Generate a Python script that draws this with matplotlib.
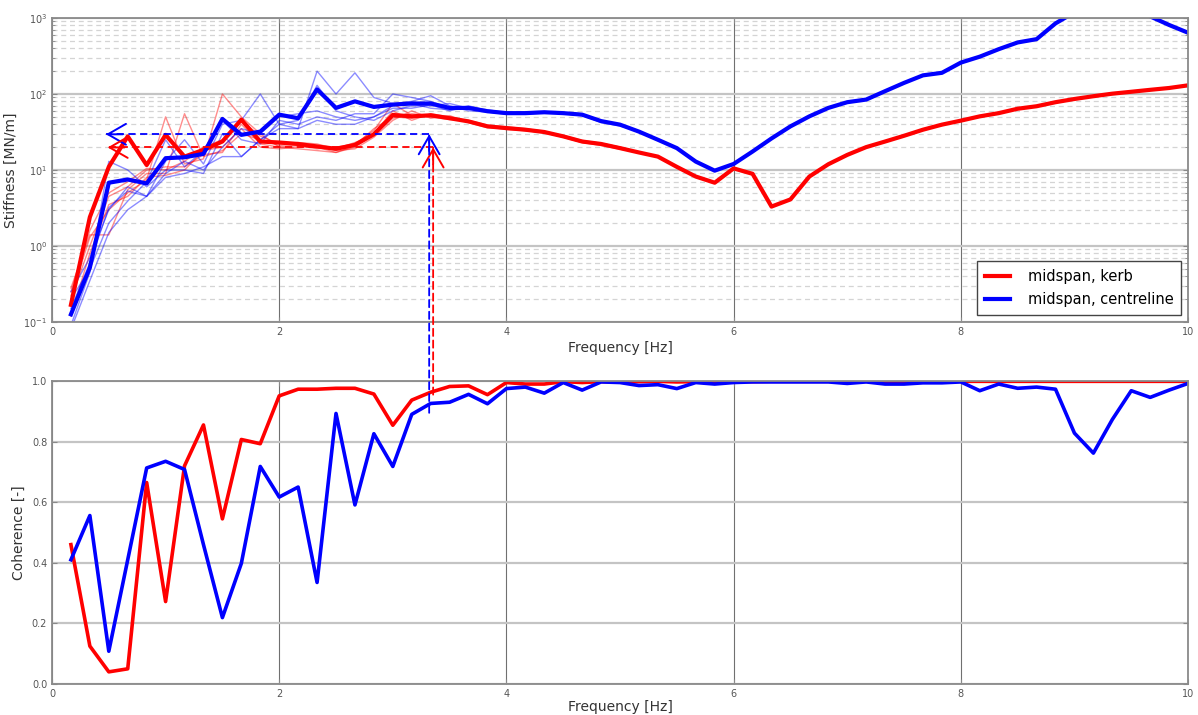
import numpy as np
import matplotlib
matplotlib.use("Agg")
import matplotlib.pyplot as plt
from matplotlib.patches import ConnectionPatch

# frequency bins (resolution 1/6 Hz, 60 bins up to 10 Hz)
df = 1.0 / 6.0
freq = df * np.arange(1, 61)

# mean stiffness [MN/m]
kerb_stiff = [0.168, 2.4, 11, 27.7, 11.6, 29, 15, 18.4, 23.7, 46,
              23.7, 23, 22, 20.4, 19, 21.4, 29.5, 53, 50.8, 52.5,
              48, 43.6, 37.5, 35.6, 33.9, 31.6, 27.7, 23.7, 22, 19.4,
              17, 15, 11, 8.2, 6.8, 10.5, 8.9, 3.3, 4.1, 8.2,
              11.9, 15.8, 20, 23.7, 28.2, 33.9, 39.5, 44.6, 50.8, 56,
              64, 69, 78, 86, 93.5, 101, 107, 113.5, 120, 130]
centre_stiff = [0.126, 0.52, 6.8, 7.5, 6.65, 14.3, 14.7, 16.3, 47, 29,
                32, 53.5, 48, 115, 65.6, 80, 67.6, 72.5, 75, 75,
                65.6, 65.6, 59.3, 56, 56, 57.5, 56, 53.5, 44, 39.5,
                32, 25, 19.4, 12.9, 9.8, 12, 17.5, 26, 37.5, 50.8,
                65.6, 78, 84.5, 109, 140, 176, 190, 259, 310, 389,
                477, 527, 850, 1190, 1600, 2000, 1900, 1050, 810, 640]

# individual runs, first 30 bins (above 5 Hz they coincide with the mean)
kerb_runs = [
    [0.22, 1.3, 3.0, 5.0, 7.5, 50, 12, 14, 100, 50, 30, 20, 19, 18, 17,
     20, 30, 60, 45, 55, 50, 44, 38, 36, 34, 32, 28, 24, 22, 19.5],
    [0.28, 1.4, 1.4, 5.5, 9, 9, 55, 15, 18, 30, 25, 21, 22, 21, 18,
     19, 27, 45, 60, 48, 52, 42, 36, 35, 33, 31, 27, 23, 21.5, 19],
    [0.2, 1.0, 4.5, 6, 10, 11, 11, 16, 17, 40, 22, 20, 21, 19, 20,
     22, 33, 75, 52, 50, 46, 45, 39, 37, 35, 32, 28.5, 24.5, 22.5, 20],
    [0.12, 0.8, 3.5, 4.5, 8, 8.5, 10, 18, 20, 35, 20, 19, 20, 20, 17,
     21, 35, 50, 48, 54, 48, 43, 37, 34, 33, 31, 27, 23, 21, 18.8],
    [0.25, 1.6, 5, 7, 10.5, 10, 13, 20, 25, 45, 28, 22, 23, 22, 19,
     23, 29, 48, 55, 52, 47, 44, 38, 36, 34.5, 32.5, 28, 24, 22.5, 20],
]
centre_runs = [
    [0.09, 0.45, 13, 10, 6, 10, 10, 9, 30, 15, 25, 35, 35, 200, 100,
     190, 90, 75, 80, 95, 70, 60, 58, 57, 55, 57, 55, 52, 43, 40],
    [0.15, 0.6, 3.2, 5.3, 4.5, 13, 25, 12, 40, 45, 100, 40, 45, 130, 60,
     50, 45, 60, 70, 70, 75, 65, 60, 55, 57, 58, 56, 54, 44, 39],
    [0.2, 0.5, 2.0, 3.9, 7, 25, 11, 18, 45, 25, 22, 45, 40, 50, 45,
     55, 55, 100, 90, 80, 65, 68, 62, 57, 55, 56, 57, 53, 42, 38],
    [0.25, 0.7, 3.0, 6, 4.5, 9, 13, 10, 20, 35, 30, 50, 55, 60, 50,
     45, 50, 65, 65, 72, 60, 70, 60, 56, 58, 59, 56, 54, 45, 40],
    [0.08, 0.35, 1.5, 3.0, 4.5, 8, 9, 11, 15, 15, 25, 40, 35, 45, 40,
     40, 50, 70, 75, 65, 62, 64, 58, 54, 56, 57, 55, 52, 43, 39],
]

# coherence [-]
kerb_coh = [0.46, 0.125, 0.04, 0.05, 0.665, 0.272, 0.72, 0.855, 0.545, 0.807,
            0.793, 0.951, 0.973, 0.973, 0.976, 0.976, 0.957, 0.854, 0.937, 0.963,
            0.982, 0.984, 0.955, 0.995, 0.99, 0.99, 0.998, 0.995, 0.998, 0.997,
            0.998, 0.999, 0.997, 0.998, 0.999, 0.999, 0.998, 0.999, 0.999, 0.999,
            0.999, 0.998, 0.999, 0.999, 0.998, 0.999, 0.999, 0.999, 0.999, 0.999,
            0.999, 0.999, 0.999, 0.999, 0.999, 0.999, 0.999, 0.999, 0.999, 0.999]
centre_coh = [0.41, 0.556, 0.108, 0.41, 0.713, 0.735, 0.708, 0.46, 0.219, 0.398,
              0.718, 0.617, 0.65, 0.335, 0.893, 0.591, 0.826, 0.718, 0.89, 0.926,
              0.93, 0.956, 0.925, 0.975, 0.98, 0.96, 0.995, 0.97, 0.997, 0.995,
              0.985, 0.988, 0.975, 0.995, 0.99, 0.995, 0.997, 0.997, 0.997, 0.997,
              0.997, 0.992, 0.997, 0.99, 0.99, 0.994, 0.994, 0.997, 0.968, 0.99,
              0.976, 0.98, 0.973, 0.828, 0.762, 0.873, 0.968, 0.946, 0.97, 0.992]

kerb_label = "midspan, kerb"
centre_label = "midspan, centreline"

RED = "#ff0000"
BLUE = "#0000ff"

plt.rcParams["font.family"] = ["DejaVu Sans"]

fig = plt.figure(figsize=(11.98, 7.15), dpi=100)
ax1 = fig.add_axes([0.0434, 0.5497, 0.9483, 0.4251])
ax2 = fig.add_axes([0.0434, 0.0434, 0.9483, 0.4237])

# --- stiffness ---
for run in kerb_runs:
    y = np.concatenate([run, kerb_stiff[len(run):]])
    ax1.plot(freq, y, color=RED, lw=1.0, alpha=0.45)
for run in centre_runs:
    y = np.concatenate([run, centre_stiff[len(run):]])
    ax1.plot(freq, y, color=BLUE, lw=1.0, alpha=0.45)
ax1.plot(freq, kerb_stiff, color=RED, lw=3, label=kerb_label)
ax1.plot(freq, centre_stiff, color=BLUE, lw=3, label=centre_label)

ax1.set_yscale("log")
ax1.set_ylim(0.1, 1000)
ax1.set_xlim(0, 10)
ax1.set_ylabel("Stiffness [MN/m]", fontsize=10, color="#333333")
ax1.set_xlabel("Frequency [Hz]", fontsize=10, color="#333333", labelpad=3)
ax1.grid(True, which="minor", axis="y", color="#d4d4d4", lw=0.9, ls=(0, (4, 3)))
ax1.legend(loc="lower right", fontsize=10.5, fancybox=False, framealpha=1,
           edgecolor="#444444", handlelength=1.7, handletextpad=1.2,
           labelspacing=0.6, borderpad=0.55, borderaxespad=0.45)

# --- coherence ---
ax2.plot(freq, kerb_coh, color=RED, lw=2.6)
ax2.plot(freq, centre_coh, color=BLUE, lw=2.6)
ax2.set_xlim(0, 10)
ax2.set_ylim(0, 1.0)
ax2.set_yticks([0, 0.2, 0.4, 0.6, 0.8, 1.0])
ax2.set_ylabel("Coherence [-]", fontsize=10, color="#333333")
ax2.set_xlabel("Frequency [Hz]", fontsize=10, color="#333333", labelpad=1)

for ax in (ax1, ax2):
    ax.set_xticks([0, 2, 4, 6, 8, 10])
    ax.grid(True, which="major", axis="y", color="#c4c4c4", lw=1.6)
    ax.grid(True, which="major", axis="x", color="#707070", lw=0.8)
    ax.set_axisbelow(True)
    ax.tick_params(which="both", labelsize=7, labelcolor="#555555",
                   direction="in", color="#888888", top=True, right=True)
    ax.tick_params(which="minor", length=2)
    for sp in ax.spines.values():
        sp.set_color("#8a8a8a")
        sp.set_linewidth(1.3)

# --- read-off annotations ---
dash = (0, (4, 2.5))
head = "->,head_length=1.3,head_width=0.75"
marks = [(BLUE, 3.32, 29.5, 0.895, 0.475), (RED, 3.355, 19.8, 0.955, 0.49)]
for col, f0, k0, c0, fleft in marks:
    # horizontal read-off in the stiffness plot
    ax1.plot([f0, fleft], [k0, k0], color=col, lw=1.3, ls=dash)
    ax1.annotate("", xy=(fleft, k0), xytext=(12, 0), textcoords="offset points",
                 arrowprops=dict(arrowstyle=head, color=col, lw=1.4,
                                 shrinkA=0, shrinkB=0))
    # vertical link from the coherence plot up to the stiffness plot
    con = ConnectionPatch(xyA=(f0, c0), coordsA=ax2.transData,
                          xyB=(f0, k0), coordsB=ax1.transData,
                          color=col, lw=1.3, ls=dash)
    fig.add_artist(con)
    ax1.annotate("", xy=(f0, k0), xytext=(0, -12), textcoords="offset points",
                 arrowprops=dict(arrowstyle=head, color=col, lw=1.4,
                                 shrinkA=0, shrinkB=0))

fig.savefig("out.png", dpi=100)
